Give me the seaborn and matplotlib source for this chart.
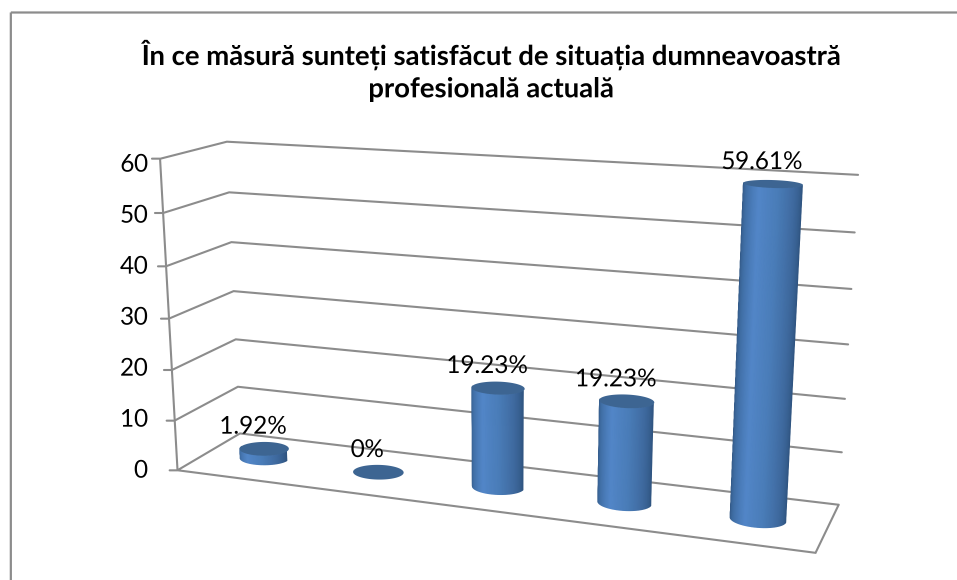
#Satisfaction chart, drawn as an Excel style 3D cylinder column chart

import numpy as np
import seaborn as sns
import matplotlib.pyplot as plt
from matplotlib.patches import Polygon, Rectangle

categories = ["A", "B", "C", "D", "E"]
values = [1.92, 0, 19.23, 19.23, 59.61]
value_labels = ["1.92%", "0%", "19.23%", "19.23%", "59.61%"]
y_ticks = [0, 10, 20, 30, 40, 50, 60]
title_lines = "În ce măsură sunteți satisfăcut de situația dumneavoastră\nprofesională actuală"

sns.set_theme(style="white")
plt.rcParams['font.family'] = ['Lato', 'DejaVu Sans']

GRID = "#8c8c8c"

#Where the plot box sits in the picture, used to fit the perspective camera
front_left = [(177,470),(175,421),(172,370),(169,319),(166,267),(163,213),(160,160)]
back_left = [(240,435),(238,387),(236,339),(234,291),(231,243),(229,192),(227,142)]
back_right = [(838,505),(842,453),(845,399),(848,345),(851,289),(855,233),(858,175)]
front_right_floor = (816,553)

pts3d = []
pts2d = []
for i in range(7):
    v = i / 6
    pts3d += [(0,0,v), (0,1,v), (1,1,v)]
    pts2d += [front_left[i], back_left[i], back_right[i]]
pts3d.append((1,0,0))
pts2d.append(front_right_floor)

A = []
for (X,Y,Z),(px,py) in zip(pts3d, pts2d):
    px, py = px/1000, py/1000
    A.append([X,Y,Z,1,0,0,0,0,-px*X,-px*Y,-px*Z,-px])
    A.append([0,0,0,0,X,Y,Z,1,-py*X,-py*Y,-py*Z,-py])
cam = np.linalg.svd(np.array(A))[2][-1].reshape(3,4)

def project(u, d, v):
    #u along categories 0-1, d depth 0-1 (front to back), v axis value
    u, d, v = np.broadcast_arrays(u, d, np.asarray(v) / 60)
    p = cam @ np.stack([u, d, v, np.ones_like(u, dtype=float)])
    return p[0] / p[2] * 1000, p[1] / p[2] * 1000

fig = plt.figure(figsize=(9.57, 5.81), dpi=100)
ax = fig.add_axes([0,0,1,1])
ax.set_xlim(0,957)
ax.set_ylim(581,0)
ax.axis('off')

#seaborn works out the bars, the cylinders are then built from its patches
ax_bars = fig.add_axes([0,0,1,1])
sns.barplot(x=categories, y=values, ax=ax_bars, width=0.405, color="#4F81BD")
ax_bars.set_xlim(-0.5, 4.5)
bars = list(ax_bars.patches)
ax_bars.set_visible(False)

#Chart frame, only top and left are inside the picture
ax.add_patch(Rectangle((10.5,12.5), 1000, 600, fill=False, edgecolor="#8c8c8c", lw=1.6, clip_on=True))

#Gridlines
for i, tick in enumerate(y_ticks):
    xs, ys = project([0,0,1], [0,1,1], [tick]*3)
    ax.plot(xs, ys, color=GRID, lw=1.5, solid_capstyle='round')
    fx, fy = project(0, 0, tick)
    ax.plot([fx-8, fx], [fy, fy], color=GRID, lw=1.5)
    ax.text(148, 471 - i*51, str(tick), ha='right', va='center', fontsize=17.5, color="black")

xs, ys = project([0,1,1], [0,0,1], [0,0,0])
ax.plot(xs, ys, color=GRID, lw=1.5, solid_joinstyle='miter')
xs, ys = project([0,0], [0,0], [0,60])
ax.plot(xs, ys, color=GRID, lw=1.5)

#Cylinders
body = sns.blend_palette(["#2C4D75","#3F6DA3","#5286C8","#4A7DB9","#3F6A9F","#2F5480"], as_cmap=True)
cap_color = "#3D6592"
depth_r = 0.17
theta = np.linspace(np.pi, 2*np.pi, 61)
ring = np.linspace(0, 2*np.pi, 121)

for bar, label in zip(bars, value_labels):
    xc = bar.get_x() + bar.get_width() / 2
    u = (xc + 0.5) / len(categories)
    ru = bar.get_width() / 2 / len(categories)
    h = bar.get_height()

    bx, by = project(u + ru*np.cos(theta), 0.5 + depth_r*np.sin(theta), 0)
    tx, ty = project(u + ru*np.cos(theta), 0.5 + depth_r*np.sin(theta), h)
    if h > 0:
        X = np.array([bx, tx])
        Y = np.array([by, ty])
        C = np.array([(theta-np.pi)/np.pi]*2)
        ax.pcolormesh(X, Y, C, cmap=body, vmin=0, vmax=1, shading='gouraud', zorder=3)

    cx, cy = project(u + ru*np.cos(ring), 0.5 + depth_r*np.sin(ring), h)
    ax.add_patch(Polygon(np.column_stack([cx, cy]), closed=True, facecolor=cap_color, edgecolor='none', zorder=4))

    mx, my = project(u, 0.5, h)
    ax.text(mx-11, my-22, label, ha='center', va='center', fontsize=17.5, color="black", zorder=5)

ax.text(491, 71, title_lines, ha='center', va='center', fontsize=19.8, fontweight='bold', color="black", linespacing=1.33)

#Render large and shrink, the gouraud mesh has no antialiasing of its own
fig.set_dpi(300)
fig.canvas.draw()
img = np.asarray(fig.canvas.buffer_rgba())[:, :, :3].astype(float)
h3, w3 = img.shape[0] // 3, img.shape[1] // 3
small = img[:h3*3, :w3*3].reshape(h3, 3, w3, 3, 3).mean(axis=(1, 3))
plt.imsave("out.png", small.astype(np.uint8))
